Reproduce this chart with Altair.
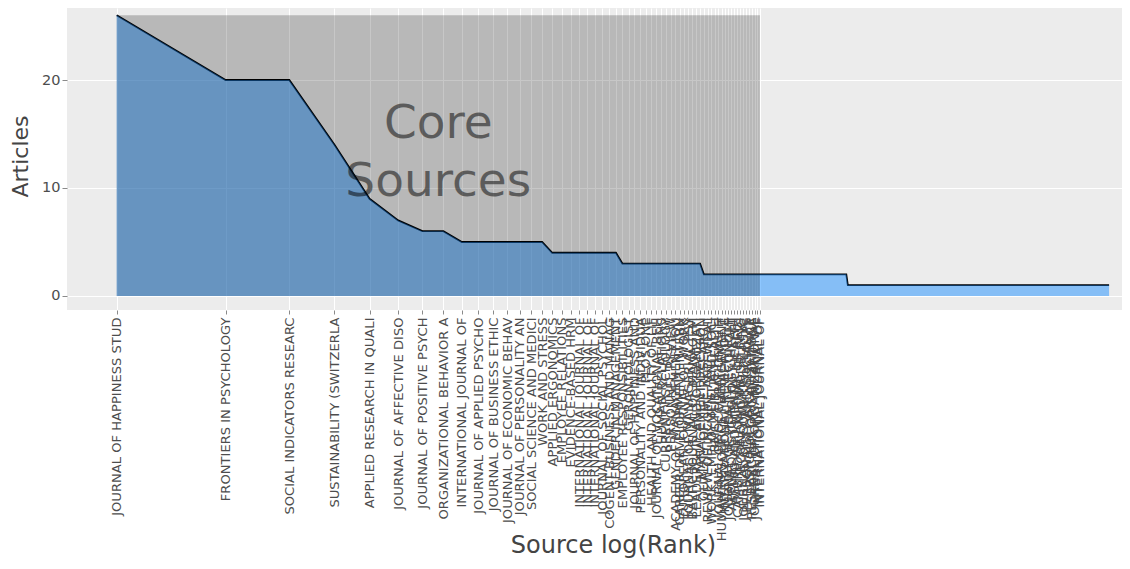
import math
import json
import altair as alt
import pandas as pd

# ---- data ----
# articles per source, as run-length: level value and number of sources at that level (ranked)
freq_levels = [26, 20, 20, 14, 9, 7, 6, 6, 5, 4, 3, 2, 1]
run_lengths = [1, 1, 1, 1, 1, 1, 1, 1, 7, 9, 17, 63, 450]
core_sources = 60  # number of sources in Bradford zone 1

source_names = [
    "JOURNAL OF HAPPINESS STUD",
    "FRONTIERS IN PSYCHOLOGY",
    "SOCIAL INDICATORS RESEARC",
    "SUSTAINABILITY (SWITZERLA",
    "APPLIED RESEARCH IN QUALI",
    "JOURNAL OF AFFECTIVE DISO",
    "JOURNAL OF POSITIVE PSYCH",
    "ORGANIZATIONAL BEHAVIOR A",
    "INTERNATIONAL JOURNAL OF ",
    "JOURNAL OF APPLIED PSYCHO",
    "JOURNAL OF BUSINESS ETHIC",
    "JOURNAL OF ECONOMIC BEHAV",
    "JOURNAL OF PERSONALITY AN",
    "SOCIAL SCIENCE AND MEDICI",
    "WORK AND STRESS",
    "APPLIED ERGONOMICS",
    "EMPLOYEE RELATIONS",
    "EVIDENCE-BASED HRM",
    "INTERNATIONAL JOURNAL OF ",
    "INTERNATIONAL JOURNAL OF ",
    "INTERNATIONAL JOURNAL OF ",
    "JOURNAL OF SOCIAL PSYCHOL",
    "COGENT BUSINESS AND MANAG",
    "GENDER IN MANAGEMENT",
    "EMPLOYEE RESPONSIBILITIES",
    "GERONTOLOGIST",
    "JOURNAL OF HAPPINESS AND ",
    "PERSONALITY AND INDIVIDUA",
    "PLOS ONE",
    "HEALTH AND QUALITY OF LIF",
    "JOURNAL OF VOCATIONAL BEH",
    "HUMAN RELATIONS",
    "CURRENT PSYCHOLOGY",
    "PERSONNEL REVIEW",
    "ACADEMY OF MANAGEMENT JOU",
    "CAREER DEVELOPMENT INTERN",
    "EUROPEAN JOURNAL OF WORK ",
    "JOURNAL OF MANAGERIAL PSY",
    "BALTIC JOURNAL OF MANAGEM",
    "LEADERSHIP AND ORGANIZATI",
    "MANAGEMENT DECISION",
    "QUALITY OF LIFE RESEARCH",
    "REVIEW OF INCOME AND WEAL",
    "WORK, EMPLOYMENT AND SOCI",
    "BMC PUBLIC HEALTH",
    "JOURNAL OF OCCUPATIONAL H",
    "HUMAN RESOURCE MANAGEMENT",
    "INTERNATIONAL REVIEW OF E",
    "JOURNAL OF HEALTH ECONOMI",
    "APPLIED PSYCHOLOGY: HEALT",
    "AGING AND MENTAL HEALTH",
    "CAMBRIDGE JOURNAL OF REGI",
    "ECONOMIC MODELLING",
    "JOURNAL OF COMMUNITY PSYC",
    "PERSONALITY AND SOCIAL PS",
    "PSYCHOLOGICAL SCIENCE",
    "RESEARCH IN ORGANIZATIONA",
    "JOURNAL OF ORGANIZATIONAL",
    "INTERNATIONAL JOURNAL OF ",
    "INTERNATIONAL JOURNAL OF ",
]

# ---- tables built from the arrays ----
freqs = [f for f, n in zip(freq_levels, run_lengths) for _ in range(n)]
ranks = list(range(1, len(freqs) + 1))
df = pd.DataFrame({"Rank": ranks, "Freq": freqs})
df["logRank"] = [math.log(r) for r in ranks]

core_df = pd.DataFrame({
    "x": [0.0], "x2": [math.log(core_sources)],
    "y": [0.0], "y2": [float(max(freqs))],
})
text_df = pd.DataFrame({
    "x": [math.log(core_sources) / 2], "y": [max(freqs) / 2],
    "label": ["Core\nSources"],
})

break_values = [math.log(r) for r in range(1, core_sources + 1)]
names_js = json.dumps(source_names)

xscale = alt.Scale(domain=[-0.3164, 6.3994], nice=False, zero=False)
yscale = alt.Scale(domain=[-1.30, 26.67], nice=False, zero=False)

FONT = "DejaVu Sans"
xaxis = alt.Axis(
    values=break_values,
    labelExpr=f"{names_js}[round(exp(datum.value)) - 1]",
    labelAngle=270, labelFont=FONT, labelFontSize=13.1, labelColor="#4D4D4D",
    labelLimit=400, labelOverlap=False, labelFlush=False, labelPadding=3,
    tickSize=4, tickColor="#8A8A8A", domain=False,
    grid=True, gridColor="white", gridWidth=1,
    title="Source log(Rank)", titleFont=FONT, titleFontSize=24,
    titleFontWeight="normal", titleColor="#444444",
    titleX=546, titleY=235, titleBaseline="middle", titleAlign="center",
)
yaxis = alt.Axis(
    values=[0, 10, 20], labelFont=FONT, labelFontSize=14.5, labelColor="#4D4D4D",
    labelPadding=2, tickSize=5, tickColor="#8A8A8A", domain=False,
    grid=True, gridColor="white", gridWidth=1.2,
    title="Articles", titleFont=FONT, titleFontSize=22, titleFontWeight="normal",
    titleColor="#444444", titleX=-47, titleY=148, titleAngle=270,
    titleBaseline="middle", titleAlign="center",
)

line = alt.Chart(df).mark_line(color="black", strokeWidth=1.8).encode(
    x=alt.X("logRank:Q", scale=xscale, axis=xaxis),
    y=alt.Y("Freq:Q", scale=yscale, axis=yaxis),
)
area = alt.Chart(df).mark_area(color="#1E90FF", opacity=0.5).encode(
    x=alt.X("logRank:Q", scale=xscale, axis=xaxis),
    y=alt.Y("Freq:Q", scale=yscale, axis=yaxis),
    y2=alt.datum(0),
)
rect = alt.Chart(core_df).mark_rect(color="black", opacity=0.22).encode(
    x=alt.X("x:Q", scale=xscale, axis=xaxis),
    x2="x2:Q",
    y=alt.Y("y:Q", scale=yscale, axis=yaxis),
    y2="y2:Q",
)
text = alt.Chart(text_df).mark_text(
    font=FONT, fontSize=47, color="black", opacity=0.5,
    lineBreak="\n", lineHeight=58, align="center", baseline="middle", dy=-32,
).encode(
    x=alt.X("x:Q", scale=xscale, axis=xaxis),
    y=alt.Y("y:Q", scale=yscale, axis=yaxis),
    text="label:N",
)

chart = alt.layer(line, area, rect, text).properties(
    width=1055, height=302,
    padding={"left": 59, "top": 0, "right": 0, "bottom": 250},
    autosize=alt.AutoSizeParams(type="none"),
    background="white",
).configure_view(fill="#ECECEC", strokeWidth=0)

chart.save("out.html", embed_options={"renderer": "svg", "actions": False})
